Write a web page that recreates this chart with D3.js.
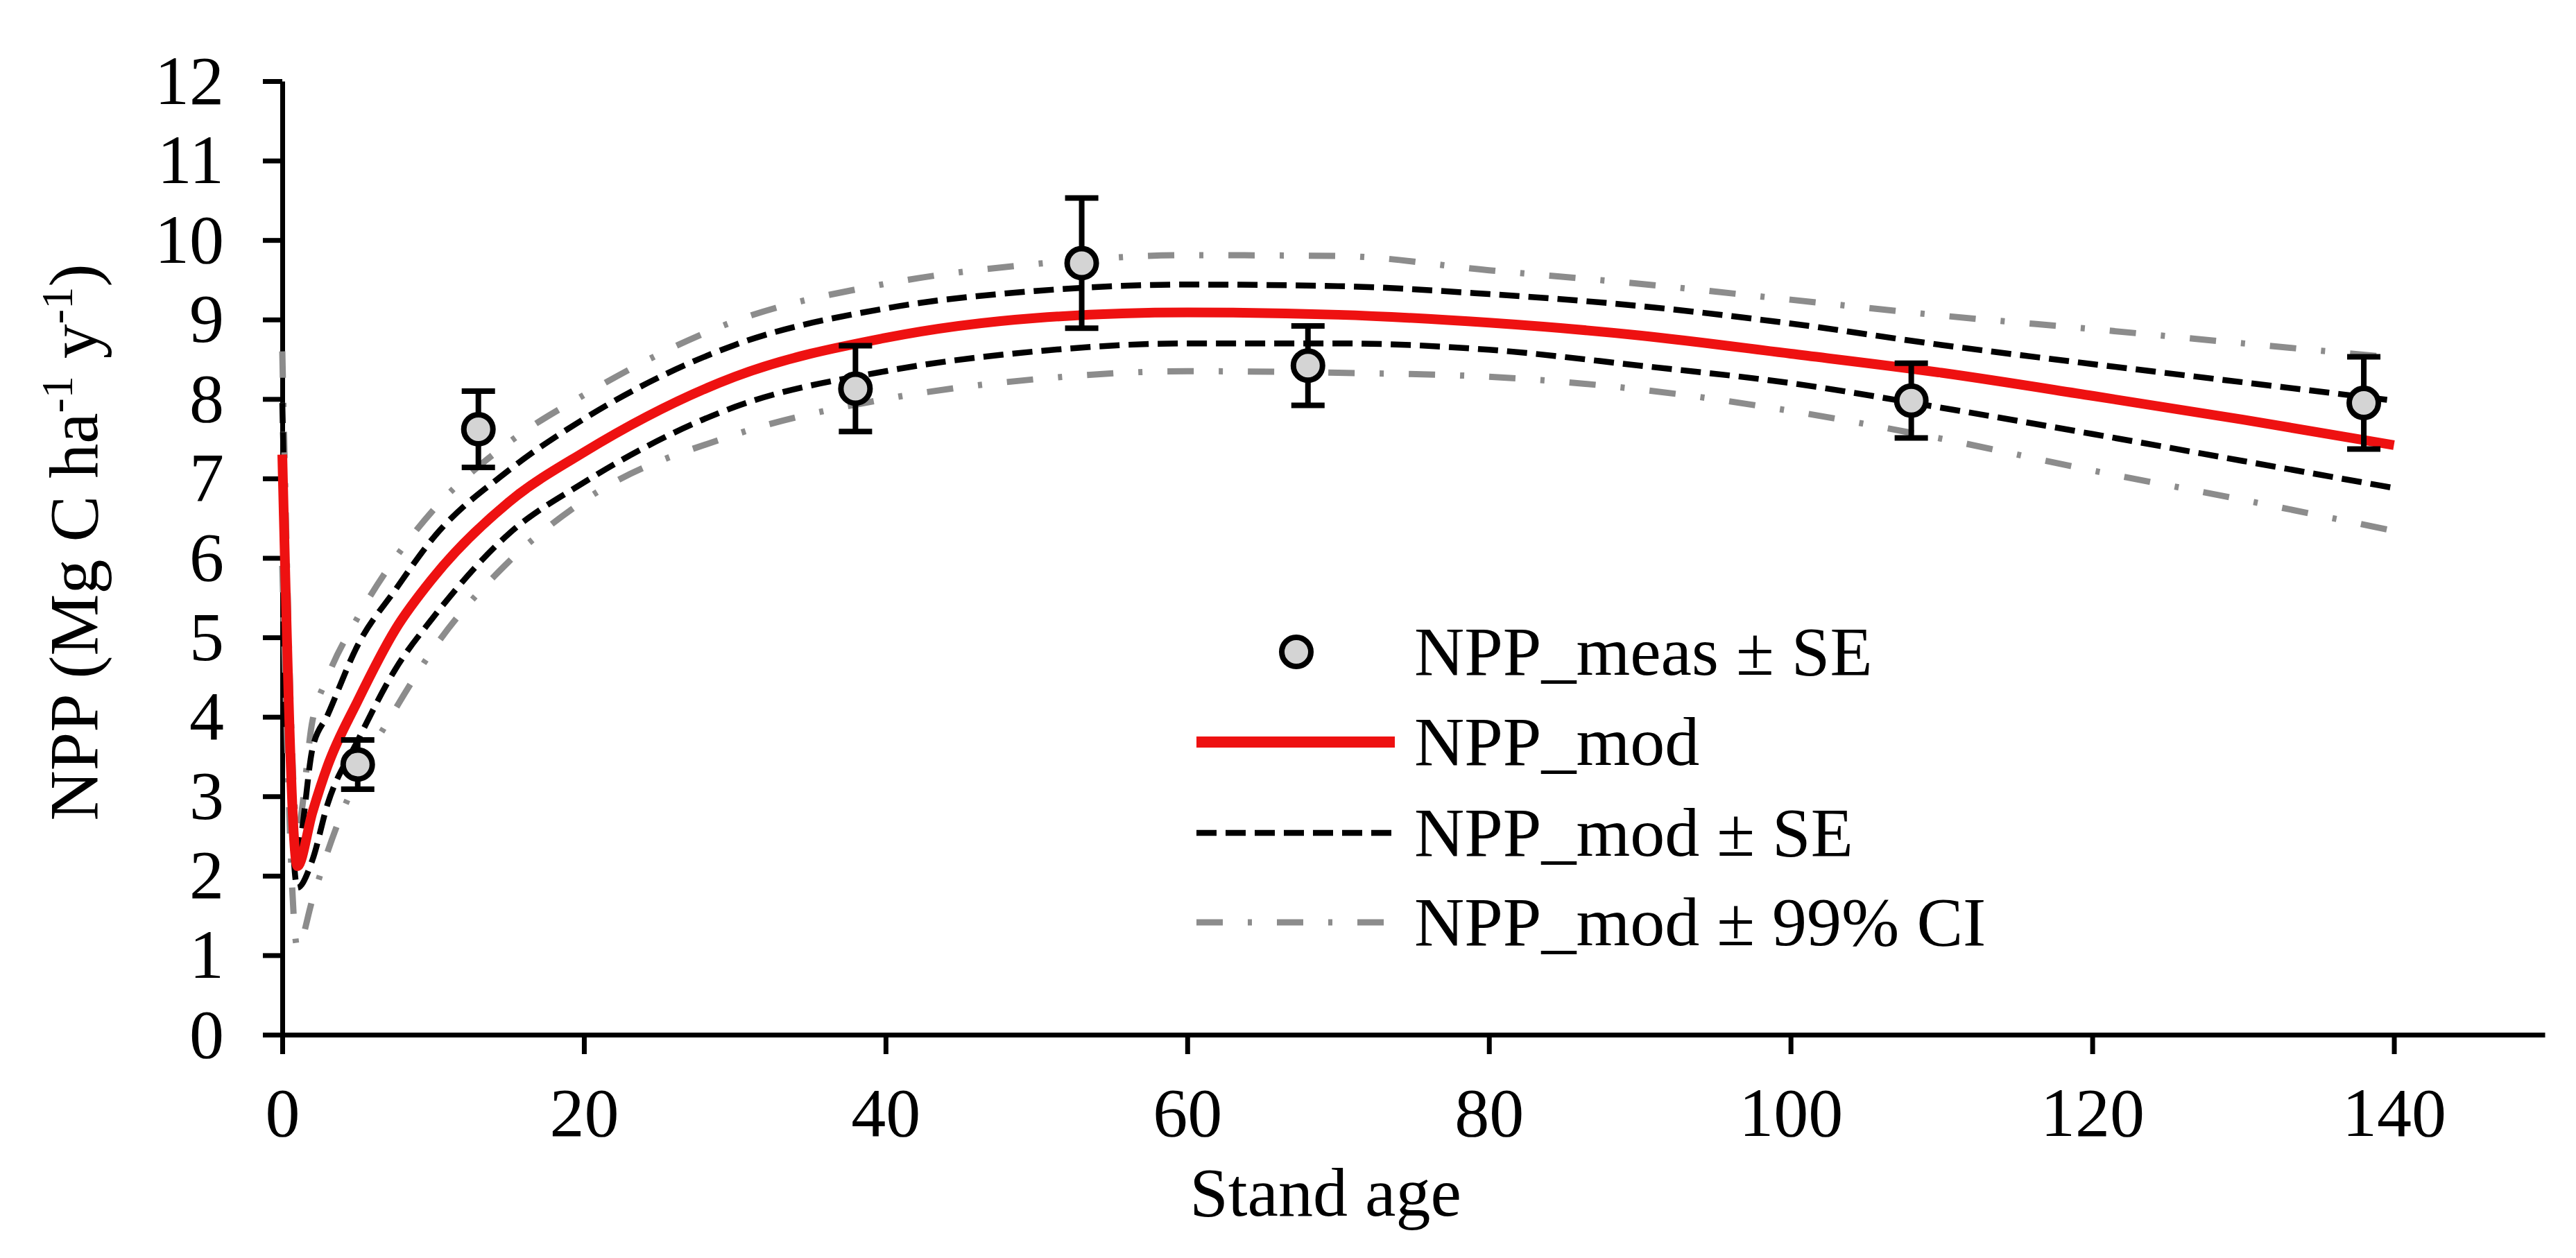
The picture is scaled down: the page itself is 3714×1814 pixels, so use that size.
<!DOCTYPE html>
<html>
<head>
<meta charset="utf-8">
<script src="https://cdn.jsdelivr.net/npm/d3@7"></script>
<style>
  html, body { margin: 0; padding: 0; background: #fff; }
  svg text { font-family: "Liberation Serif", "Times New Roman", serif; fill: #000; }
</style>
</head>
<body>
<div id="chart"></div>
<script>
var modAge = [0, 1, 2, 3, 5, 7.5, 10, 15, 20, 30, 40, 50, 60, 70, 80, 90, 100, 110, 120, 130, 140]
var nppMod = [7.3, 2.12, 2.8, 3.38, 4.2, 5.1, 5.75, 6.7, 7.33, 8.28, 8.77, 9.02, 9.09, 9.06, 8.96, 8.8, 8.57, 8.33, 8.04, 7.74, 7.42]
var modUpperSE = [7.95, 2.35, 3.6, 4.02, 4.9, 5.6, 6.25, 7.1, 7.75, 8.68, 9.14, 9.36, 9.44, 9.42, 9.32, 9.17, 8.95, 8.68, 8.44, 8.21, 7.98]
var modLowerSE = [6.6, 1.85, 2.2, 2.9, 3.7, 4.6, 5.25, 6.3, 6.95, 7.9, 8.35, 8.6, 8.7, 8.7, 8.62, 8.42, 8.2, 7.89, 7.56, 7.22, 6.88]
var modUpperCI = [8.6, 2.6, 3.95, 4.5, 5.25, 6.0, 6.6, 7.45, 8.05, 8.98, 9.45, 9.7, 9.81, 9.8, 9.62, 9.45, 9.25, 9.05, 8.88, 8.7, 8.52]
var modLowerCI = [5.9, 1.1, 1.7, 2.3, 3.25, 4.1, 4.85, 5.95, 6.72, 7.55, 8.0, 8.25, 8.35, 8.33, 8.28, 8.12, 7.85, 7.5, 7.1, 6.73, 6.34]

// measured plots
var measAge = [5, 13, 38, 53, 68, 108, 138]
var measNpp = [3.40, 7.62, 8.13, 9.71, 8.42, 7.98, 7.95]
var measSE = [0.31, 0.48, 0.54, 0.82, 0.5, 0.47, 0.58]

var xTicks = [0, 20, 40, 60, 80, 100, 120, 140]
var yTicks = [0, 1, 2, 3, 4, 5, 6, 7, 8, 9, 10, 11, 12]
var legendLabels = ["NPP_meas \u00b1 SE", "NPP_mod", "NPP_mod \u00b1 SE", "NPP_mod \u00b1 99% CI"]

var W = 3714, H = 1814
var margin = { top: 117, right: 45, bottom: 322, left: 407 },
    width = W - margin.left - margin.right,
    height = H - margin.top - margin.bottom;

var svgRoot = d3.select("#chart")
    .append("svg")
    .attr("width", W)
    .attr("height", H)
    .style("display", "block")

svgRoot.append("rect").attr("width", W).attr("height", H).attr("fill", "#fff")

var svg = svgRoot.append("g")
    .attr("transform", "translate(" + margin.left + "," + margin.top + ")");

var x = d3.scaleLinear().domain([0, 150]).range([0, width])
var y = d3.scaleLinear().domain([0, 12]).range([height, 0])

var red = "#ee1111", grey = "#8c8c8c"
var styles = {
    ci: { stroke: grey, width: 9, dash: "38,36,6,36" },
    se: { stroke: "#000", width: 8.5, dash: "29,13" },
    mod: { stroke: red, width: 14, dash: null }
}

// axes
var xAxis = svg.append("g")
    .attr("transform", "translate(0," + height + ")")
    .call(d3.axisBottom(x).tickValues(xTicks).tickSize(28).tickSizeOuter(0).tickPadding(47))

var yAxis = svg.append("g")
    .call(d3.axisLeft(y).tickValues(yTicks).tickSize(28).tickSizeOuter(0).tickPadding(56))

svg.selectAll(".domain, .tick line")
    .attr("stroke", "#000")
    .attr("stroke-width", 7)
svg.selectAll(".tick text")
    .attr("font-size", 100)
    .attr("font-family", null)
    .attr("fill", "#000")

// model curves
var line = d3.line()
    .x(function (d) { return x(d[0]) })
    .y(function (d) { return y(d[1]) })
    .curve(d3.curveMonotoneX)

function drawCurve(values, st) {
    svg.append("path")
        .datum(modAge.map(function (a, i) { return [a, values[i]] }))
        .attr("d", line)
        .attr("fill", "none")
        .attr("stroke", st.stroke)
        .attr("stroke-width", st.width)
        .attr("stroke-dasharray", st.dash)
        .attr("stroke-linejoin", "round")
}

drawCurve(modUpperCI, styles.ci)
drawCurve(modLowerCI, styles.ci)
drawCurve(modUpperSE, styles.se)
drawCurve(modLowerSE, styles.se)
drawCurve(nppMod, styles.mod)

// measured values with error bars
var meas = measAge.map(function (a, i) { return { age: a, npp: measNpp[i], se: measSE[i] } })
var capW = 24

var bars = svg.selectAll(".err")
    .data(meas)
    .enter()
    .append("g")
    .attr("class", "err")
    .attr("stroke", "#000")
    .attr("stroke-width", 8)

bars.append("line")
    .attr("x1", function (d) { return x(d.age) })
    .attr("x2", function (d) { return x(d.age) })
    .attr("y1", function (d) { return y(d.npp - d.se) })
    .attr("y2", function (d) { return y(d.npp + d.se) })
bars.append("line")
    .attr("x1", function (d) { return x(d.age) - capW })
    .attr("x2", function (d) { return x(d.age) + capW })
    .attr("y1", function (d) { return y(d.npp + d.se) })
    .attr("y2", function (d) { return y(d.npp + d.se) })
bars.append("line")
    .attr("x1", function (d) { return x(d.age) - capW })
    .attr("x2", function (d) { return x(d.age) + capW })
    .attr("y1", function (d) { return y(d.npp - d.se) })
    .attr("y2", function (d) { return y(d.npp - d.se) })

svg.selectAll(".pt")
    .data(meas)
    .enter()
    .append("circle")
    .attr("class", "pt")
    .attr("cx", function (d) { return x(d.age) })
    .attr("cy", function (d) { return y(d.npp) })
    .attr("r", 21)
    .attr("fill", "#d4d4d4")
    .attr("stroke", "#000")
    .attr("stroke-width", 8)

// axis titles
svgRoot.append("text")
    .attr("x", 1911)
    .attr("y", 1753)
    .attr("text-anchor", "middle")
    .attr("font-size", 100)
    .text("Stand age")

var yTitle = svgRoot.append("text")
    .attr("transform", "translate(140,782) rotate(-90)")
    .attr("text-anchor", "middle")
    .attr("font-size", 100)
yTitle.append("tspan").text("NPP (Mg C ha")
yTitle.append("tspan").attr("font-size", 64).attr("dy", -36).text("-1")
yTitle.append("tspan").attr("dy", 36).text(" y")
yTitle.append("tspan").attr("font-size", 64).attr("dy", -36).text("-1")
yTitle.append("tspan").attr("dy", 36).text(")")

// legend
var legX0 = 1725, legX1 = 2011, legText = 2039
var legY = [940, 1070, 1201, 1330]
var legend = svgRoot.append("g")

legend.append("circle")
    .attr("cx", (legX0 + legX1) / 2 + 1)
    .attr("cy", legY[0])
    .attr("r", 21)
    .attr("fill", "#d4d4d4")
    .attr("stroke", "#000")
    .attr("stroke-width", 8)

var legStyles = [null, styles.mod, styles.se, styles.ci]
legStyles.forEach(function (st, i) {
    if (!st) return
    legend.append("line")
        .attr("x1", legX0)
        .attr("x2", legX1)
        .attr("y1", legY[i])
        .attr("y2", legY[i])
        .attr("stroke", st.stroke)
        .attr("stroke-width", i == 1 ? 16 : st.width)
        .attr("stroke-dasharray", st.dash)
})

legend.selectAll("text")
    .data(legendLabels)
    .enter()
    .append("text")
    .attr("x", legText)
    .attr("y", function (d, i) { return legY[i] })
    .attr("dy", "0.33em")
    .attr("font-size", 100)
    .text(function (d) { return d })
</script>
</body>
</html>
